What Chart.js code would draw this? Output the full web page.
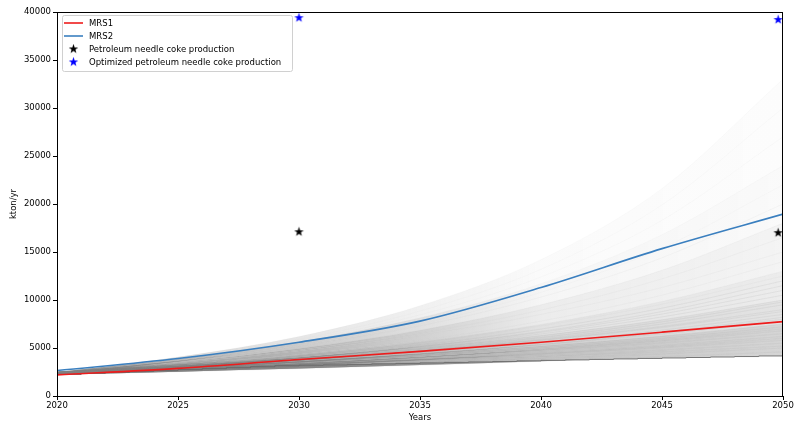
<!DOCTYPE html>
<html>
<head>
<meta charset="utf-8">
<script src="https://cdn.jsdelivr.net/npm/chart.js@4.4.1/dist/chart.umd.min.js"></script>
<style>
html, body { margin: 0; padding: 0; background: #fff; }
</style>
</head>
<body>
<canvas id="chart1" width="795" height="423"></canvas>
<script>
// x ticks and y ticks
var xTicks = [2020, 2025, 2030, 2035, 2040, 2045, 2050];
var yTicks = [0, 5000, 10000, 15000, 20000, 25000, 30000, 35000, 40000];

// scenario runs sampled every 5 years
var years = [2020, 2025, 2030, 2035, 2040, 2045, 2050];
var mrs1 = [2200, 2880, 3800, 4650, 5600, 6650, 7750];
var mrs2 = [2650, 3900, 5600, 7800, 11300, 15350, 18950];

// grey runs, lowest to highest
var grayRuns = [
    [2250, 2535, 2856, 3217, 3624, 4083, 4600],
    [2300, 2618, 2979, 3390, 3858, 4391, 5000],
    [2450, 2777, 3148, 3569, 4046, 4587, 5200],
    [2400, 2755, 3163, 3631, 4168, 4785, 5500],
    [2500, 2876, 3310, 3808, 4382, 5041, 5800],
    [2350, 2747, 3211, 3754, 4389, 5130, 6000],
    [2300, 2713, 3201, 3776, 4455, 5255, 6200],
    [2450, 2883, 3392, 3991, 4696, 5525, 6500],
    [2400, 2855, 3396, 4039, 4805, 5716, 6800],
    [2300, 2769, 3333, 4012, 4830, 5815, 7000],
    [2350, 2832, 3413, 4113, 4956, 5973, 7200],
    [2500, 3003, 3606, 4331, 5202, 6247, 7500],
    [2450, 2972, 3604, 4372, 5303, 6431, 7800],
    [2400, 2933, 3585, 4382, 5356, 6546, 8000],
    [2300, 2843, 3514, 4343, 5368, 6635, 8200],
    [2350, 2912, 3607, 4469, 5537, 6861, 8500],
    [2500, 3084, 3803, 4691, 5786, 7137, 8800],
    [2450, 3043, 3781, 4696, 5834, 7247, 9000],
    [2300, 2913, 3690, 4675, 5921, 7500, 9500],
    [2350, 2981, 3783, 4799, 6089, 7725, 9800],
    [2500, 3150, 3969, 5000, 6300, 7938, 10000],
    [2450, 3122, 3979, 5071, 6462, 8236, 10500],
    [2400, 3093, 3987, 5138, 6622, 8535, 11000],
    [2300, 3008, 3933, 5143, 6725, 8794, 11500],
    [2350, 3084, 4047, 5311, 6970, 9147, 12000],
    [2500, 3269, 4275, 5590, 7310, 9559, 12500],
    [2450, 3236, 4274, 5644, 7454, 9845, 13000],
    [2300, 3250, 4350, 5800, 7800, 10500, 14000],
    [2500, 3450, 4700, 6300, 8500, 11300, 15000],
    [2400, 3450, 4800, 6550, 8950, 12200, 16500],
    [2350, 3500, 4950, 6850, 9500, 13100, 18000],
    [2450, 3650, 5200, 7300, 10300, 14400, 20000],
    [2300, 3600, 5250, 7500, 10800, 15400, 22000],
    [2500, 3850, 5650, 8150, 11700, 16800, 24000],
    [2400, 3850, 5750, 8450, 12400, 18300, 27000],
    [2350, 3900, 5900, 8850, 13200, 19900, 30000],
    [2450, 4050, 6200, 9400, 14200, 21600, 33000]
];

// lowest run, yearly, drawn as steps
var stepYears = [2020, 2021, 2022, 2023, 2024, 2025, 2026, 2027, 2028, 2029, 2030,
    2031, 2032, 2033, 2034, 2035, 2036, 2037, 2038, 2039, 2040,
    2041, 2042, 2043, 2044, 2045, 2046, 2047, 2048, 2049, 2050];
var lowRun = [2150, 2250, 2350, 2450, 2550, 2650, 2750, 2850, 2950, 3050, 3150,
    3200, 3250, 3300, 3350, 3400, 3450, 3500, 3550, 3600, 3660,
    3710, 3760, 3810, 3860, 3910, 3960, 4010, 4060, 4110, 4170];

var cokeYears = [2030, 2049.8];
var cokeProd = [17100, 17000];
var cokeOpt = [39400, 39200];

function pts(xs, ys) {
    return xs.map(function (x, i) { return { x: x, y: ys[i] }; });
}

function makeStar(color) {
    var c = document.createElement('canvas');
    c.width = 11; c.height = 11;
    var g = c.getContext('2d');
    g.fillStyle = color;
    g.beginPath();
    for (var i = 0; i < 10; i++) {
        var r = i % 2 === 0 ? 5 : 2;
        var a = -Math.PI / 2 + i * Math.PI / 5;
        var px = 5.5 + r * Math.cos(a), py = 5.5 + r * Math.sin(a);
        if (i === 0) g.moveTo(px, py); else g.lineTo(px, py);
    }
    g.closePath();
    g.fill();
    return c;
}
var starBlack = makeStar('#000000');
var starBlue = makeStar('#0000ff');

var FONT = '"DejaVu Sans", sans-serif';
var redLine = '#ee1c1c';
var blueLine = '#3a7fbf';

// shading between neighbouring runs fades from left to right
function bandFill(stops) {
    return function (ctx) {
        var ca = ctx.chart.chartArea;
        if (!ca) return 'rgba(128,128,128,0.3)';
        var g = ctx.chart.ctx.createLinearGradient(ca.left, 0, ca.right, 0);
        g.addColorStop(0, 'rgba(128,128,128,' + stops[0] + ')');
        g.addColorStop(0.33, 'rgba(128,128,128,' + stops[1] + ')');
        g.addColorStop(0.67, 'rgba(128,128,128,' + stops[2] + ')');
        g.addColorStop(1, 'rgba(128,128,128,' + stops[3] + ')');
        return g;
    };
}

function bandStops(end) {
    if (end <= 7700) return [0.95, 0.8, 0.48, 0.33];
    if (end <= 10000) return [0.92, 0.72, 0.32, 0.22];
    if (end <= 13000) return [0.9, 0.66, 0.23, 0.15];
    if (end <= 19000) return [0.85, 0.58, 0.15, 0.09];
    if (end <= 24000) return [0.7, 0.42, 0.075, 0.045];
    return [0.4, 0.2, 0.035, 0.022];
}

var datasets = [];
datasets.push({
    label: '',
    data: pts(stepYears, lowRun),
    borderColor: 'rgba(100,100,100,0.85)',
    borderWidth: 1,
    pointRadius: 0,
    stepped: 'after',
    fill: false,
    order: 9
});
grayRuns.forEach(function (run) {
    var end = run[run.length - 1];
    datasets.push({
        label: '',
        data: pts(years, run),
        borderColor: 'rgba(128,128,128,' + (end <= 12000 ? 0.12 : (end <= 20000 ? 0.06 : 0.03)) + ')',
        borderWidth: 1,
        pointRadius: 0,
        cubicInterpolationMode: 'monotone',
        fill: '-1',
        backgroundColor: bandFill(bandStops(end)),
        order: 10
    });
});
datasets.push({
    label: 'MRS1',
    data: pts(years, mrs1),
    borderColor: redLine,
    borderWidth: 1.6,
    pointRadius: 0,
    cubicInterpolationMode: 'monotone',
    fill: false,
    order: 3
});
datasets.push({
    label: 'MRS2',
    data: pts(years, mrs2),
    borderColor: blueLine,
    borderWidth: 1.6,
    pointRadius: 0,
    cubicInterpolationMode: 'monotone',
    fill: false,
    order: 2
});
datasets.push({
    label: 'Petroleum needle coke production',
    data: pts(cokeYears, cokeProd),
    showLine: false,
    pointStyle: starBlack,
    order: 1
});
datasets.push({
    label: 'Optimized petroleum needle coke production',
    data: pts(cokeYears, cokeOpt),
    showLine: false,
    pointStyle: starBlue,
    order: 0
});

var frameAndLegend = {
    id: 'frameAndLegend',
    afterDraw: function (chart) {
        var ctx = chart.ctx;
        var a = chart.chartArea;
        ctx.save();
        ctx.strokeStyle = '#000';
        ctx.lineWidth = 1;
        ctx.strokeRect(Math.round(a.left) + 0.5, Math.round(a.top) + 0.5,
            Math.round(a.right - a.left) - 1, Math.round(a.bottom - a.top));

        // legend box
        var bx = 62, by = 15, bw = 230, bh = 56;
        ctx.fillStyle = 'rgba(255,255,255,0.8)';
        ctx.strokeStyle = '#d0d0d0';
        ctx.beginPath();
        ctx.roundRect(bx + 0.5, by + 0.5, bw, bh, 2);
        ctx.fill();
        ctx.stroke();

        var rows = [
            { kind: 'line', color: redLine, text: 'MRS1' },
            { kind: 'line', color: blueLine, text: 'MRS2' },
            { kind: 'star', img: starBlack, text: 'Petroleum needle coke production' },
            { kind: 'star', img: starBlue, text: 'Optimized petroleum needle coke production' }
        ];
        ctx.font = '8.5px ' + FONT;
        ctx.textBaseline = 'middle';
        ctx.textAlign = 'left';
        rows.forEach(function (r, i) {
            var y = 23 + i * 13;
            if (r.kind === 'line') {
                ctx.strokeStyle = r.color;
                ctx.lineWidth = 1.6;
                ctx.beginPath();
                ctx.moveTo(64, y);
                ctx.lineTo(83, y);
                ctx.stroke();
            } else {
                ctx.drawImage(r.img, 73.5 - 5.5, y - 5.5);
            }
            ctx.fillStyle = '#000';
            ctx.fillText(r.text, 89, y + 0.5);
        });
        ctx.restore();
    }
};

var myChart = document.getElementById('chart1').getContext('2d');
var runsChart = new Chart(myChart, {
    type: 'line',
    data: { datasets: datasets },
    options: {
        responsive: false,
        animation: false,
        devicePixelRatio: 1,
        layout: { padding: { top: 12, right: 0, bottom: 0, left: 0 } },
        plugins: {
            legend: { display: false },
            tooltip: { enabled: false },
            filler: { propagate: false }
        },
        scales: {
            x: {
                type: 'linear',
                min: 2020,
                max: 2050,
                afterBuildTicks: function (s) { s.ticks = xTicks.map(function (v) { return { value: v }; }); },
                afterFit: function (s) { s.height = 27; s.paddingRight = 12; s.paddingLeft = 0; },
                border: { display: false },
                grid: { drawOnChartArea: false, drawTicks: true, tickLength: 4, color: '#000' },
                ticks: {
                    font: { family: FONT, size: 8.5 },
                    color: '#000',
                    padding: 1,
                    maxRotation: 0,
                    callback: function (v) { return String(v); }
                },
                title: {
                    display: true,
                    text: 'Years',
                    font: { family: FONT, size: 8.5 },
                    color: '#000',
                    padding: { top: 2, bottom: 0 }
                }
            },
            y: {
                type: 'linear',
                min: 0,
                max: 40000,
                afterBuildTicks: function (s) { s.ticks = yTicks.map(function (v) { return { value: v }; }); },
                afterFit: function (s) { s.width = 57; s.paddingTop = 0; s.paddingBottom = 0; },
                border: { display: false },
                grid: { drawOnChartArea: false, drawTicks: true, tickLength: 4, color: '#000' },
                ticks: {
                    font: { family: FONT, size: 8.5 },
                    color: '#000',
                    padding: 2,
                    callback: function (v) { return String(v); }
                },
                title: {
                    display: true,
                    text: 'kton/yr',
                    font: { family: FONT, size: 8.5 },
                    color: '#000',
                    padding: { top: 9, bottom: 2 }
                }
            }
        }
    },
    plugins: [frameAndLegend]
});
</script>
</body>
</html>
